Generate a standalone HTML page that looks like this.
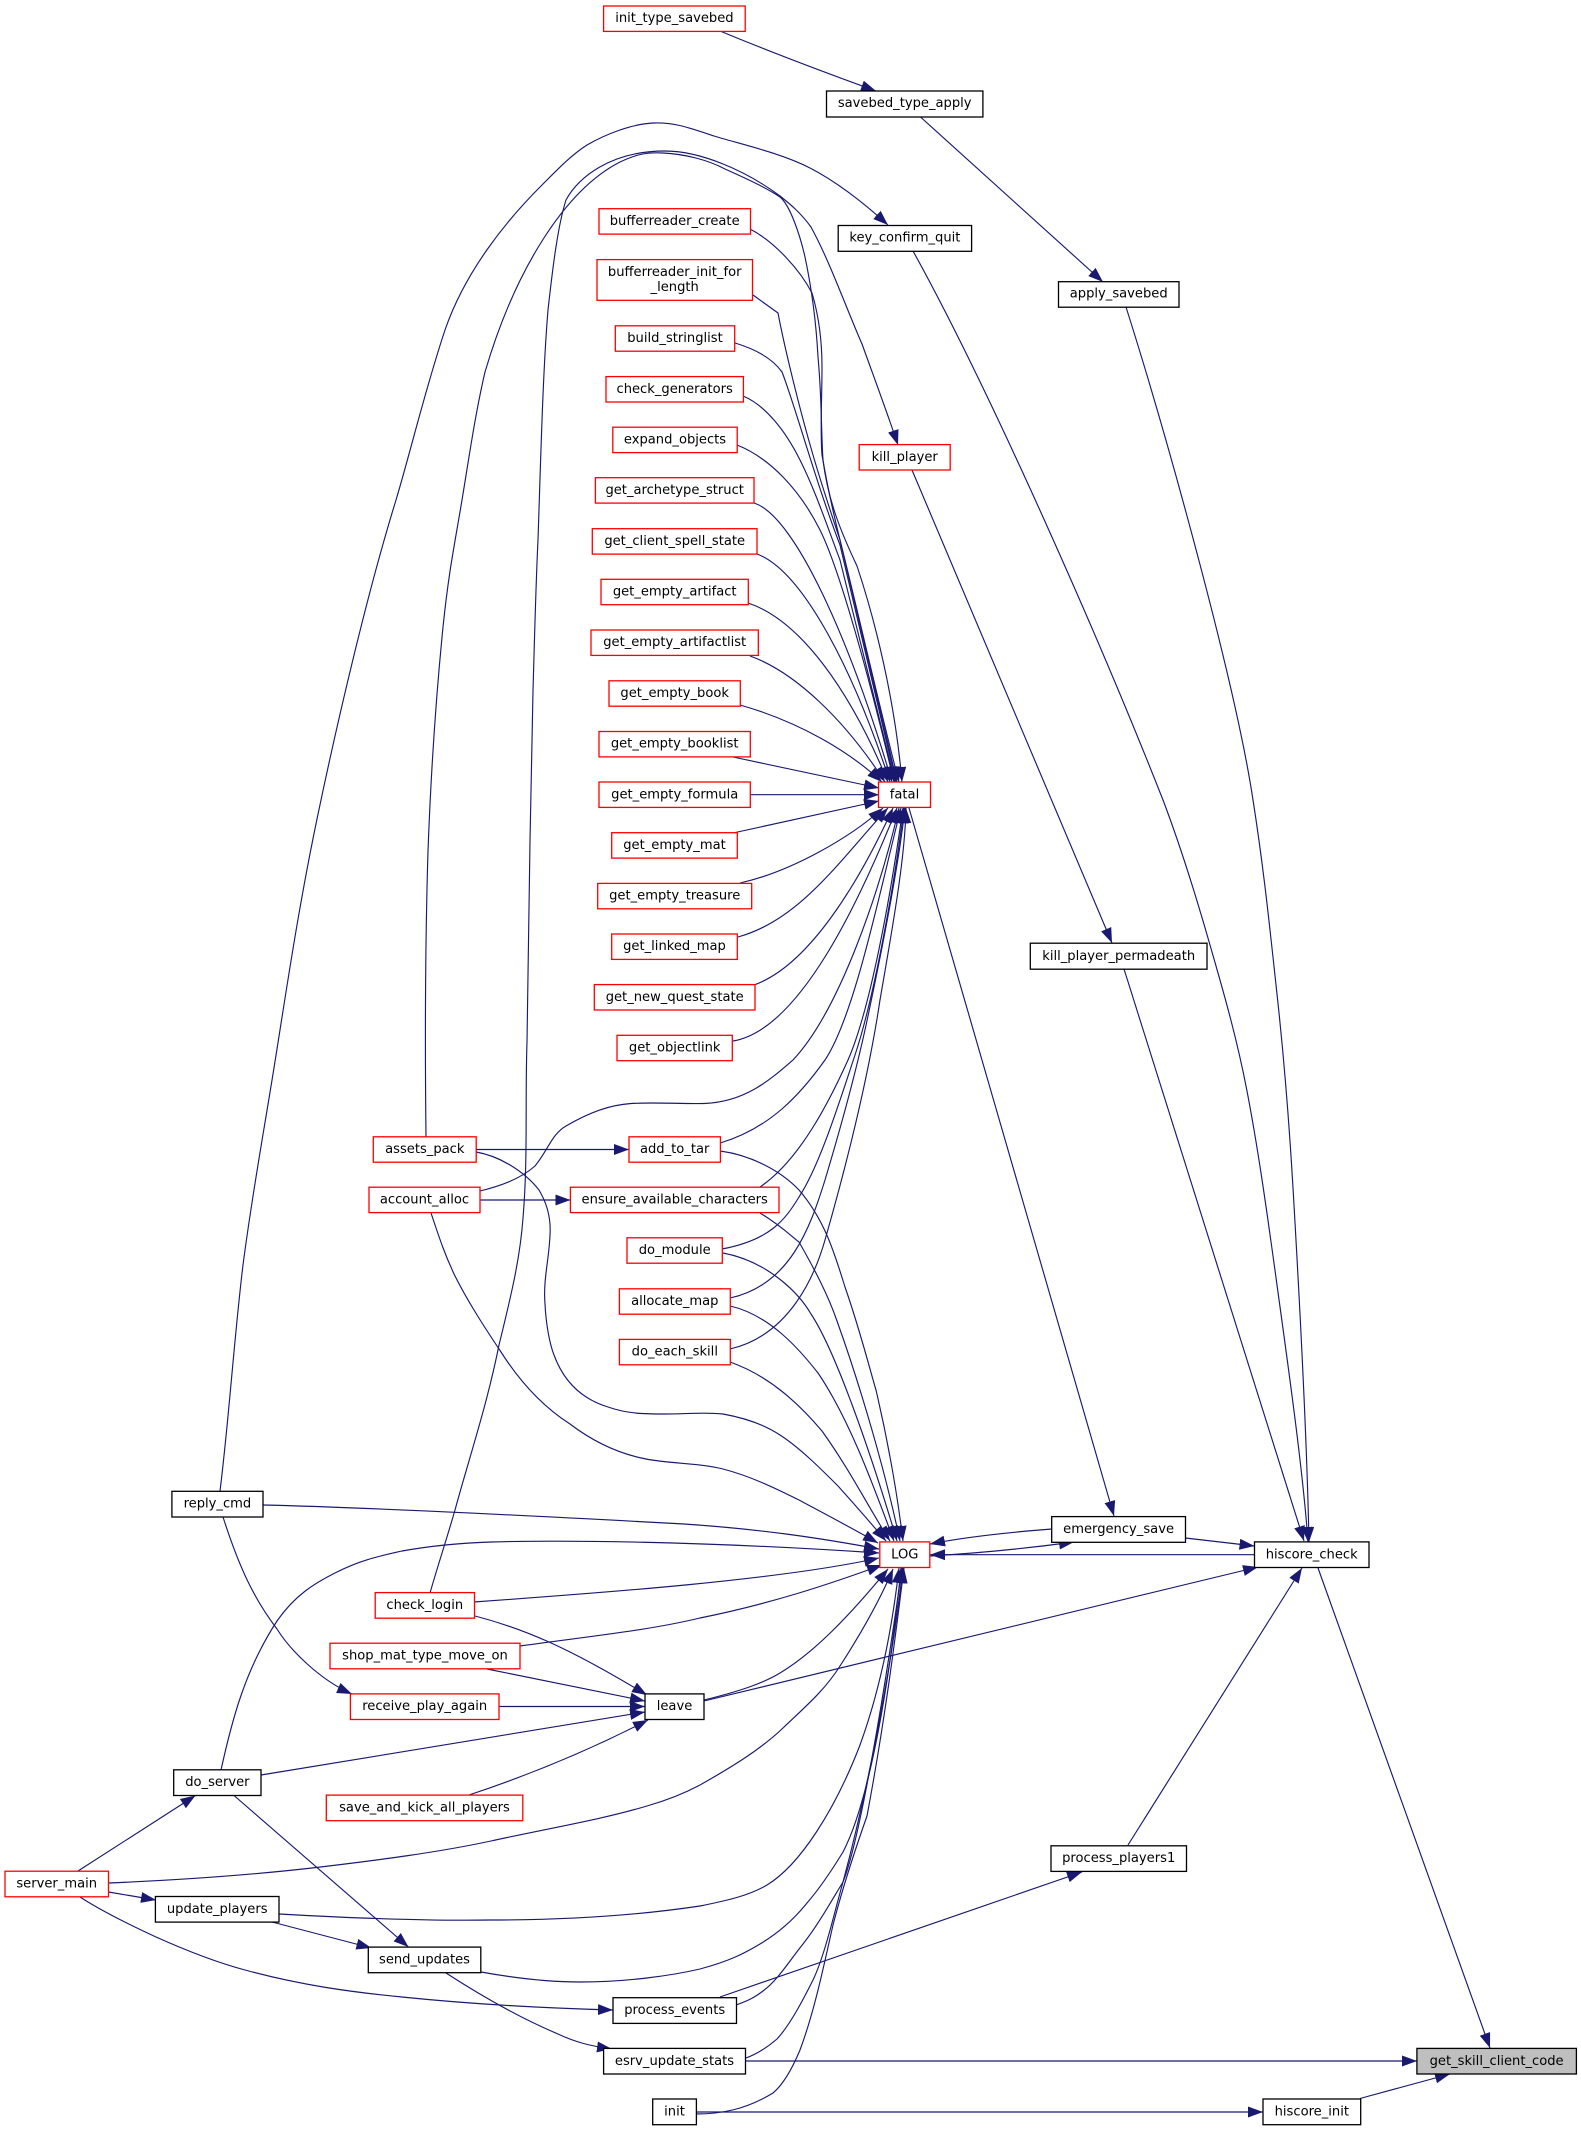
<!DOCTYPE html>
<html><head><meta charset="utf-8"><style>html,body{margin:0;padding:0;background:#fff}svg{display:block}text{font-family:"DejaVu Sans",sans-serif;font-size:13.1px;fill:#000;text-anchor:middle}</style></head><body>
<svg width="1581" height="2131" viewBox="0 0 1581 2131" xmlns="http://www.w3.org/2000/svg">
<defs><marker id="a" markerUnits="userSpaceOnUse" markerWidth="16" markerHeight="12" refX="15" refY="5.5" orient="auto"><path d="M0,0 L15,5.5 L0,11 Z" fill="#191970"/></marker></defs>
<rect width="1581" height="2131" fill="#fff"/>
<g fill="none" stroke="#191970" stroke-width="1.15" marker-end="url(#a)">
<path d="M720,31 Q785,58 876,91"/>
<path d="M920.5,117 L1103,282"/>
<path d="M220,1491 C229,1419 234,1339 243,1265 C252,1196 261,1148 273,1074 C285,1000 297,915 317,819 C337,723 367,594 396,500 C411,450 425,390 445,330 C465,272 505,222 541,186 C557,170 570,156 587,145 C606,134 632,124 653,123 C674,122 690,128 714,136 C740,144 781,153 810,168 C839,183 865,204 888,225"/>
<path d="M913,251 C990,390 1100,640 1163,800 C1182,850 1198,903 1210,945 C1222,987 1236,1034 1247,1091 C1258,1148 1267,1212 1277,1285 C1287,1358 1303,1470 1308,1542"/>
<path d="M1126,307 C1165,430 1235,680 1253,800 C1264,870 1270,930 1277,994 C1284,1058 1289,1120 1293,1188 C1299,1290 1307,1440 1309,1542"/>
<path d="M1124,969 L1304,1541"/>
<path d="M912,470 L1112,943"/>
<path d="M909,808 L1114,1516"/>
<path d="M430,1593 C438,1565 447,1538 455,1510 C470,1455 487,1405 499,1345 C510,1300 520,1260 523,1218 C528,1160 525,1100 527,1042 C529,920 530,810 533,691 C535,620 536,580 538,540 C541,450 543,370 548,310 C553,265 558,225 566,200 C578,178 610,151 665,151 C700,151 745,170 780,196 C790,204 800,212 811,227 C830,262 845,305 862,344 C875,380 888,415 898,445"/>
<path d="M426,1137 C425,1050 425,950 428,851 C431,770 437,687 443,627 C449,570 454,548 462,500 C469,458 475,415 485,372 C515,270 565,190 620,162 C635,155 645,152 663,153 C685,154 708,160 725,169 C745,178 765,187 780,197 C790,205 800,235 805,257 C812,290 816,320 818,357 C822,400 821,430 823,460 C828,500 840,530 857,566 C875,620 895,700 902,782"/>
<path d="M750,229 C775,242 800,270 812,293 C820,320 822,345 822,367 C822,400 820,430 822,455 C828,490 835,520 840,540 C860,620 880,710 899,782"/>
<path d="M753,295 L778,313 C785,350 800,410 811,448 C820,480 830,510 840,540 L897,782"/>
<path d="M735,343 C755,349 772,358 782,372 C795,405 815,480 840,545 L896,782"/>
<path d="M743,396 C765,405 785,430 800,460 C815,490 825,520 840,560 L895,782"/>
<path d="M737,445 C770,458 800,490 820,530 C840,570 870,680 894,782"/>
<path d="M754,503 C795,516 850,640 892,782"/>
<path d="M757,554 C800,570 850,660 890,782"/>
<path d="M748,603 C800,620 850,690 888,782"/>
<path d="M750,656 C795,672 845,720 885,782"/>
<path d="M740,705 C800,722 850,752 882,782"/>
<path d="M733,757 L879,788"/>
<path d="M750,794.7 L879,794.7"/>
<path d="M733,833 L879,801"/>
<path d="M740,883 C790,872 850,838 883,808"/>
<path d="M738,937 C800,920 840,860 888,808"/>
<path d="M754,985 C810,965 860,880 893,808"/>
<path d="M733,1041 C800,1030 860,900 897,808"/>
<path d="M480,1191 C510,1184 526,1174 535,1166 C548,1150 552,1134 566,1126 C590,1112 610,1105 631,1103.5 C655,1102 680,1104 704,1103.5 C745,1102 770,1080 793,1060 C840,1010 880,890 899,808"/>
<path d="M720.4,1143 C770,1128 800,1095 825,1060 C855,1015 880,890 901,808"/>
<path d="M760,1187 C800,1160 830,1100 848,1060 C870,1010 890,900 903,808"/>
<path d="M722,1249 C770,1240 785,1220 799,1197 C820,1165 840,1100 855,1055 C875,995 895,880 904,808"/>
<path d="M730,1298 C790,1285 810,1228 825,1180 C840,1130 855,1075 865,1030 C880,960 898,870 905,808"/>
<path d="M730,1349 C790,1335 815,1275 825,1240 C845,1170 868,1080 880,1000 C892,930 905,860 906,808"/>
<path d="M720,1151 C750,1155 780,1170 799,1190 C825,1220 835,1255 845,1287 C860,1330 870,1370 876,1390 C890,1450 898,1500 903,1541"/>
<path d="M760,1213 C780,1225 790,1235 799,1242 C815,1270 828,1295 837,1321 C860,1385 885,1470 900,1541"/>
<path d="M723,1253 C770,1262 800,1295 811,1314 C835,1350 870,1450 897,1541"/>
<path d="M730,1306 C770,1315 800,1350 818,1373 C850,1420 875,1490 894,1541"/>
<path d="M730,1362 C770,1376 800,1405 822,1431 C850,1470 870,1510 890,1541"/>
<path d="M476,1152 C500,1156 525,1172 539,1190 C548,1205 551,1220 550,1235 C549,1260 543,1280 545,1304 C546,1325 550,1345 554,1355 C565,1385 585,1400 608,1407 C628,1414 645,1414 665,1414 C685,1414 705,1412 723,1414 C745,1418 765,1425 780,1435 C800,1448 820,1468 838,1486 C855,1505 870,1522 886,1541"/>
<path d="M431,1213 C440,1240 445,1255 455,1276 C468,1302 485,1328 501,1352 C522,1385 545,1408 570,1424 C595,1443 620,1454 646,1459 C672,1464 700,1463 723,1469 C750,1476 775,1488 799,1500 C825,1514 850,1527 878,1543"/>
<path d="M263,1505 C350,1507 500,1514 684,1524 C760,1529 820,1538 879,1549"/>
<path d="M221,1770 C232,1720 245,1670 277,1621 C295,1595 315,1583 335,1573 C360,1560 380,1556 402,1551 C430,1546 460,1543 491,1542 C560,1540 700,1541 879,1553"/>
<path d="M474,1602 C600,1593 780,1580 879,1558"/>
<path d="M520,1646 C600,1635 650,1630 700,1618 C770,1604 830,1584 882,1565"/>
<path d="M475,1616 C510,1625 540,1638 549,1642 C580,1656 610,1673 647,1695"/>
<path d="M487,1669 L645,1701"/>
<path d="M499,1706.5 L645,1706.5"/>
<path d="M261,1775 L645,1712"/>
<path d="M469,1795 C520,1778 580,1755 648,1720"/>
<path d="M223,1517 C240,1570 255,1600 277,1629 C290,1650 320,1680 352,1694"/>
<path d="M704,1700 C745,1690 765,1682 780,1673 C815,1652 850,1615 888,1569"/>
<path d="M704,1701 L1258,1567"/>
<path d="M108.5,1883 C180,1880 250,1875 312,1868 C380,1860 440,1852 491,1841 C550,1828 600,1820 647,1806 C668,1800 685,1793 700,1785 C730,1768 760,1750 783,1728 C805,1707 825,1690 840,1666 C860,1635 880,1600 893,1569"/>
<path d="M279,1914 C350,1918 430,1921 491,1920 C570,1920 640,1915 700,1906 C730,1900 750,1895 767,1885 C800,1865 835,1810 860,1745 C880,1690 892,1630 899,1568"/>
<path d="M481,1972 C520,1979 550,1982 580,1982 C625,1982 670,1976 700,1969 C730,1961 745,1953 760,1944 C780,1932 795,1918 807,1903 C820,1888 832,1870 843,1852 C870,1800 890,1680 901,1568"/>
<path d="M736,2005 C750,2000 755,1997 763,1991 C778,1980 790,1960 803,1944 C818,1925 832,1900 843,1882 C860,1840 885,1690 902,1568"/>
<path d="M746,2058 C760,2053 770,2045 777,2039 C790,2025 803,2000 813,1980 C825,1955 835,1910 843,1882 C865,1800 890,1680 903,1568"/>
<path d="M696,2114 C720,2114 745,2110 773,2093 C785,2083 795,2062 800,2050 C815,2010 825,1960 833,1925 C842,1890 855,1850 867,1816 C885,1720 895,1640 904,1568"/>
<path d="M720,1997 L1082,1872"/>
<path d="M1128,1845 L1302,1568"/>
<path d="M1318,1568 L1490,2048"/>
<path d="M746,2061 L1417,2061"/>
<path d="M696,2112 L1263,2112"/>
<path d="M1360,2098.5 L1450,2074"/>
<path d="M1052,1529 C1000,1533 960,1538 930,1544"/>
<path d="M930,1556 C980,1553 1030,1548 1074,1542"/>
<path d="M1254.5,1554.7 L930,1554.7"/>
<path d="M1185.4,1538 L1254.5,1546"/>
<path d="M80,1897 C100,1910 130,1925 156,1937 C185,1950 215,1962 245,1970 C300,1985 350,1992 402,1997 C470,2004 540,2008 613,2010"/>
<path d="M78,1871 L195.5,1795.5"/>
<path d="M108.5,1892 L156,1900"/>
<path d="M234,1795.5 L408.5,1947"/>
<path d="M272,1922 L371.4,1948"/>
<path d="M446,1973 C480,1995 520,2018 558,2034 C575,2042 590,2046 612,2049"/>
<path d="M476,1149.5 L629,1149.5"/>
<path d="M480,1200 L570.4,1200"/>
</g>
<g fill="#fff" stroke="#f00" stroke-width="1.3">
<rect x="603.6" y="6" width="141.6" height="25.4"/>
<rect x="599" y="208.7" width="151.5" height="25.4"/>
<rect x="597" y="259.6" width="155.5" height="40.7"/>
<rect x="615.3" y="325.8" width="119.4" height="25.4"/>
<rect x="606" y="376.6" width="137.4" height="25.4"/>
<rect x="612.8" y="427.2" width="124.4" height="25.4"/>
<rect x="595.4" y="477.7" width="158.6" height="25.4"/>
<rect x="592.3" y="528.7" width="164.7" height="25.4"/>
<rect x="601" y="579.3" width="147.3" height="25.4"/>
<rect x="591" y="630" width="167.3" height="25.4"/>
<rect x="609" y="680.8" width="131.3" height="25.4"/>
<rect x="599" y="731.5" width="151.3" height="25.4"/>
<rect x="599" y="782" width="151.3" height="25.4"/>
<rect x="611.7" y="832.7" width="125.6" height="25.4"/>
<rect x="597.7" y="883.4" width="154" height="25.4"/>
<rect x="611.7" y="934" width="125.6" height="25.4"/>
<rect x="594.3" y="984.6" width="160.7" height="25.4"/>
<rect x="617" y="1035.3" width="115.3" height="25.4"/>
<rect x="878.5" y="782" width="52" height="25.4"/>
<rect x="373.3" y="1136.8" width="102.9" height="25.4"/>
<rect x="369" y="1187.2" width="111" height="25.4"/>
<rect x="629" y="1136.8" width="91.4" height="25.4"/>
<rect x="570.4" y="1187.2" width="208.6" height="25.4"/>
<rect x="627" y="1237.8" width="95.3" height="25.4"/>
<rect x="619.4" y="1288.8" width="110.9" height="25.4"/>
<rect x="619.4" y="1339.4" width="110.9" height="25.4"/>
<rect x="879.8" y="1541.9" width="50" height="25.6"/>
<rect x="375.2" y="1592.6" width="99.3" height="25.6"/>
<rect x="330" y="1643.2" width="190" height="25.6"/>
<rect x="350.4" y="1693.9" width="148.6" height="25.6"/>
<rect x="326.3" y="1795.1" width="196.5" height="25.6"/>
<rect x="5" y="1871.2" width="103.5" height="25.6"/>
<rect x="859.2" y="444.6" width="91" height="25.4"/>
</g>
<g fill="#fff" stroke="#000" stroke-width="1.3">
<rect x="826.5" y="91" width="156.4" height="26"/>
<rect x="838.2" y="225.5" width="133.4" height="25.8"/>
<rect x="1058.5" y="281.7" width="120.5" height="25.5"/>
<rect x="1030.3" y="943.2" width="176.7" height="26"/>
<rect x="1051.7" y="1516.6" width="133.8" height="25.7"/>
<rect x="1254.5" y="1541.9" width="114.5" height="25.6"/>
<rect x="171.9" y="1491.3" width="91.1" height="25.7"/>
<rect x="645" y="1693.9" width="59" height="25.6"/>
<rect x="173.7" y="1769.8" width="87.3" height="25.7"/>
<rect x="155.4" y="1896.5" width="123.6" height="25.6"/>
<rect x="368.3" y="1947.1" width="112.5" height="25.6"/>
<rect x="613" y="1997.7" width="123.5" height="25.7"/>
<rect x="603.6" y="2048.4" width="141.9" height="25.6"/>
<rect x="652.7" y="2099" width="43.7" height="25.7"/>
<rect x="1051" y="1845.8" width="135.5" height="25.6"/>
<rect x="1263" y="2099" width="97.7" height="25.7"/>
<rect x="1416.9" y="2048.4" width="159.5" height="25.6" fill="#bfbfbf"/>
</g>
<text x="674.4" y="22">init_type_savebed</text>
<text x="904.7" y="107">savebed_type_apply</text>
<text x="904.9" y="241.5">key_confirm_quit</text>
<text x="1118.7" y="297.5">apply_savebed</text>
<text x="674.7" y="225">bufferreader_create</text>
<text x="674.7" y="276">bufferreader_init_for</text>
<text x="674.7" y="291">_length</text>
<text x="675" y="342">build_stringlist</text>
<text x="674.7" y="393">check_generators</text>
<text x="675" y="443.5">expand_objects</text>
<text x="674.7" y="494">get_archetype_struct</text>
<text x="674.7" y="545">get_client_spell_state</text>
<text x="674.7" y="595.5">get_empty_artifact</text>
<text x="674.7" y="646">get_empty_artifactlist</text>
<text x="674.7" y="697">get_empty_book</text>
<text x="674.7" y="747.5">get_empty_booklist</text>
<text x="674.7" y="798.3">get_empty_formula</text>
<text x="674.5" y="849">get_empty_mat</text>
<text x="674.7" y="899.5">get_empty_treasure</text>
<text x="674.5" y="950">get_linked_map</text>
<text x="674.7" y="1001">get_new_quest_state</text>
<text x="674.7" y="1051.5">get_objectlink</text>
<text x="904.5" y="798.3">fatal</text>
<text x="904.7" y="461">kill_player</text>
<text x="1118.7" y="960">kill_player_permadeath</text>
<text x="424.8" y="1153">assets_pack</text>
<text x="424.5" y="1203.5">account_alloc</text>
<text x="674.7" y="1153">add_to_tar</text>
<text x="674.7" y="1203.5">ensure_available_characters</text>
<text x="674.7" y="1254">do_module</text>
<text x="674.8" y="1305">allocate_map</text>
<text x="674.8" y="1355.5">do_each_skill</text>
<text x="904.8" y="1558.5">LOG</text>
<text x="1118.6" y="1533">emergency_save</text>
<text x="1311.7" y="1558.5">hiscore_check</text>
<text x="217.4" y="1507.5">reply_cmd</text>
<text x="424.8" y="1609">check_login</text>
<text x="425" y="1659.5">shop_mat_type_move_on</text>
<text x="424.7" y="1710">receive_play_again</text>
<text x="674.5" y="1710">leave</text>
<text x="217.4" y="1786">do_server</text>
<text x="424.5" y="1811.5">save_and_kick_all_players</text>
<text x="56.7" y="1887.5">server_main</text>
<text x="217.2" y="1913">update_players</text>
<text x="424.5" y="1963.5">send_updates</text>
<text x="674.7" y="2014">process_events</text>
<text x="674.5" y="2065">esrv_update_stats</text>
<text x="674.5" y="2115.5">init</text>
<text x="1118.7" y="1862">process_players1</text>
<text x="1311.8" y="2115.5">hiscore_init</text>
<text x="1496.6" y="2065">get_skill_client_code</text>
</svg>
</body></html>
